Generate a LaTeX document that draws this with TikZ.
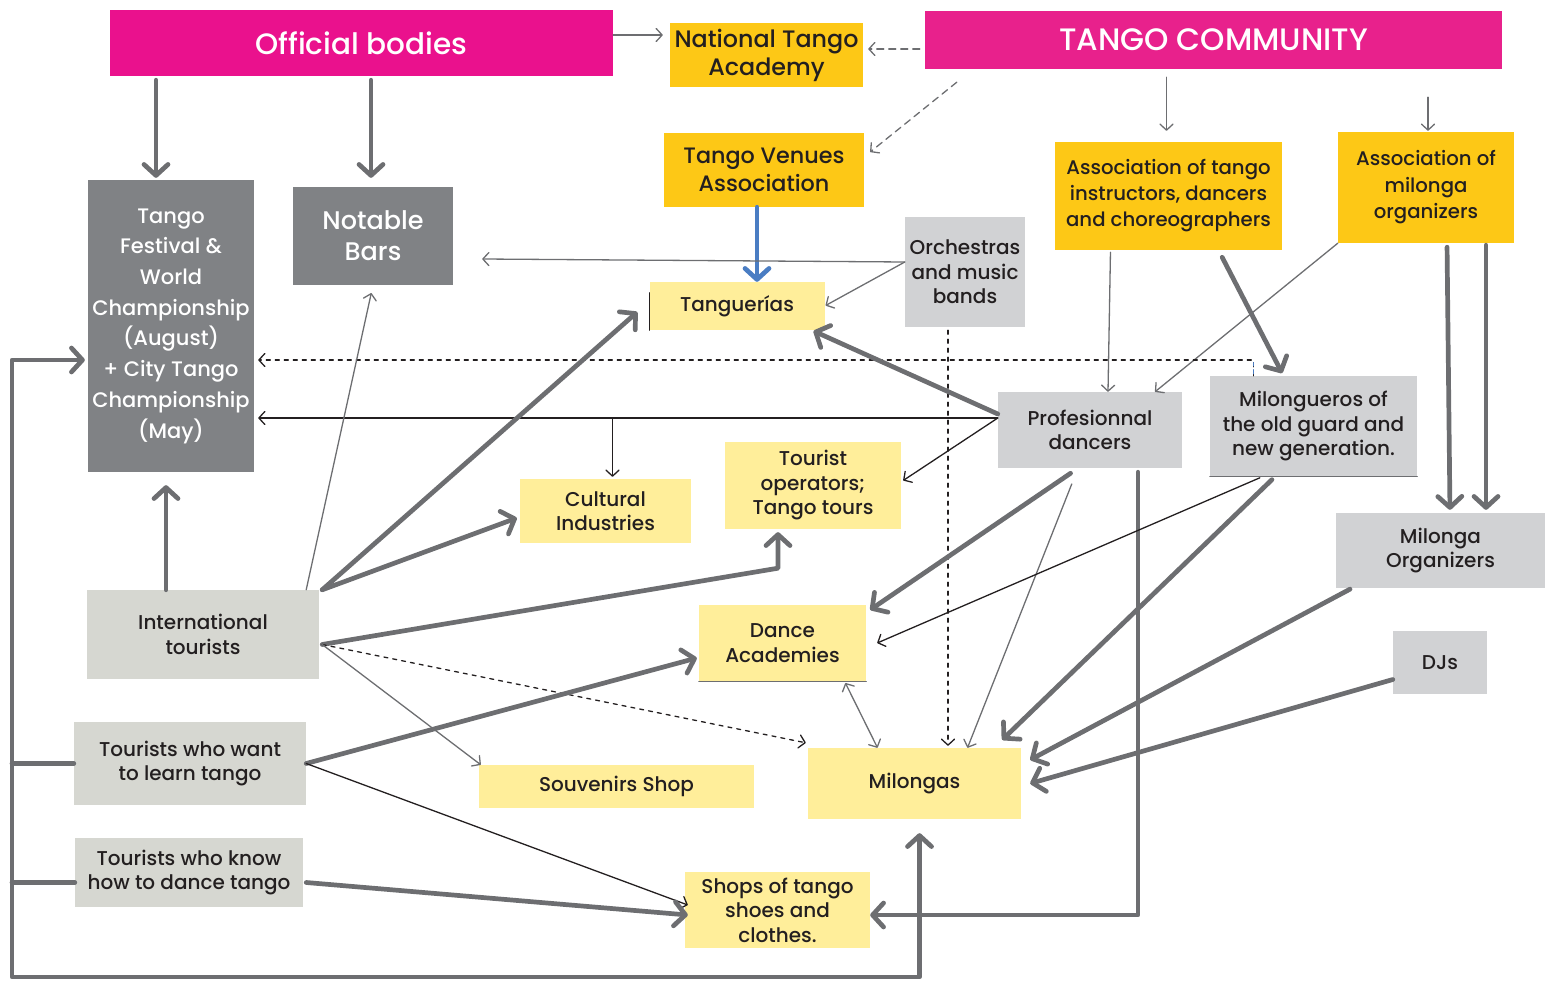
\documentclass[tikz,border=0pt]{standalone}
\usepackage{fontspec}
\IfFontExistsTF{Poppins Medium}{\setmainfont{Poppins Medium}}{\setmainfont{Poppins}}
\usepackage{tikz}
\usetikzlibrary{arrows.meta}
\definecolor{pinkA}{HTML}{EA118D}
\definecolor{pinkB}{HTML}{E8218C}
\definecolor{gold}{HTML}{FDC816}
\definecolor{slate}{HTML}{808285}
\definecolor{silver}{HTML}{D1D2D4}
\definecolor{stone}{HTML}{D6D7D1}
\definecolor{cream}{HTML}{FFEE9A}
\definecolor{lead}{HTML}{6D6E71}
\definecolor{steel}{HTML}{4A7DC3}
\definecolor{ink}{HTML}{231F20}

\begin{document}
\begin{tikzpicture}[line cap=round,line join=round,x=1pt,y=-1pt,
  bigtip/.tip={Straight Barb[length=11pt,width=24pt,round]},
  smalltip/.tip={Straight Barb[length=6pt,width=13pt,round]},
  box/.style={rectangle,inner sep=0pt,align=center,text=ink,font=\fontsize{20}{24.5}\selectfont},
  pinkbox/.style={box,text=white,font=\fontsize{29.5}{32}\selectfont},
  goldbox/.style={box,fill=gold},
  slatebox/.style={box,fill=slate,text=white},
  silverbox/.style={box,fill=silver},
  stonebox/.style={box,fill=stone},
  creambox/.style={box,fill=cream},
  heavy/.style={draw=lead,line width=4.7pt,-{bigtip}},
  fine/.style={draw=lead,line width=1.3pt,-{smalltip}},
  inkline/.style={draw=ink,line width=1.3pt,-{smalltip}},
  gap/.style={dash pattern=on 7pt off 5pt},
  inkgap/.style={dash pattern=on 4pt off 5pt}]
\useasboundingbox (0,0) rectangle (1547,981);

\node[pinkbox,fill=pinkA,minimum width=503,minimum height=66] (offb) at (361.5,43) {Official bodies};
\node[goldbox,minimum width=193,minimum height=64,font=\fontsize{23.8}{28}\selectfont] (nta) at (766.5,55) {National Tango\\Academy};
\node[pinkbox,fill=pinkB,minimum width=577,minimum height=58,font=\fontsize{31}{32}\selectfont] (comm) at (1213.5,40) {TANGO COMMUNITY};
\node[goldbox,minimum width=200,minimum height=74,font=\fontsize{22.3}{28}\selectfont] (tva) at (764,170) {Tango Venues\\Association};
\node[goldbox,minimum width=227,minimum height=108,font=\fontsize{19.7}{26}\selectfont] (ati) at (1168.5,196) {Association of tango\\instructors, dancers\\and choreographers};
\node[goldbox,minimum width=176,minimum height=111,font=\fontsize{19.7}{26.5}\selectfont] (amo) at (1426,187.5) {Association of\\milonga\\organizers};
\node[slatebox,minimum width=166,minimum height=292,font=\fontsize{21}{30.7}\selectfont] (fest) at (171,326) {Tango\\Festival \&\\World\\Championship\\(August)\\+ City Tango\\Championship\\(May)};
\node[slatebox,minimum width=160,minimum height=98,font=\fontsize{25.5}{31}\selectfont] (bars) at (373,236) {Notable\\Bars};
\node[silverbox,minimum width=120,minimum height=110] (orch) at (965,272) {Orchestras\\and music\\bands};
\node[creambox,minimum width=175,minimum height=48] (tang) at (737,306) {Tanguerías};
\node[silverbox,minimum width=184,minimum height=76] (prof) at (1090,430) {Profesionnal\\dancers};
\node[silverbox,minimum width=207,minimum height=100] (milg) at (1313.5,426) {Milongueros of\\the old guard and\\new generation.};
\node[creambox,minimum width=171,minimum height=64] (cult) at (605.5,511) {Cultural\\Industries};
\node[creambox,minimum width=176,minimum height=87] (tour) at (813,485.5) {Tourist\\operators;\\Tango tours};
\node[silverbox,minimum width=209,minimum height=75] (morg) at (1440.5,550.5) {Milonga\\Organizers};
\node[stonebox,minimum width=232,minimum height=89] (intl) at (203,634.5) {International\\tourists};
\node[creambox,minimum width=167,minimum height=76] (dance) at (782.5,643) {Dance\\Academies};
\node[silverbox,minimum width=94,minimum height=63] (djs) at (1440,662.5) {DJs};
\node[stonebox,minimum width=232,minimum height=83] (learn) at (190,763.5) {Tourists who want\\to learn tango};
\node[creambox,minimum width=275,minimum height=43] (souv) at (616.5,786.5) {Souvenirs Shop};
\node[creambox,minimum width=213,minimum height=71] (milo) at (914.5,783.5) {Milongas};
\node[stonebox,minimum width=228,minimum height=69] (know) at (189,872.5) {Tourists who know\\how to dance tango};
\node[creambox,minimum width=185,minimum height=76] (shops) at (777.5,910) {Shops of tango\\shoes and\\clothes.};
\draw[ink,line width=1.2pt] ([yshift=-11pt]tang.north west) -- (tang.south west);
\draw[lead,line width=1.2pt] (dance.south west) -- (dance.south east);
\draw[lead,line width=1.2pt] (milg.south west) -- (milg.south east);

\draw[heavy,shorten <=4pt,shorten >=2pt] ([xshift=-15pt]fest.north |- offb.south) -- ([xshift=-15pt]fest.north);
\draw[heavy,shorten <=4pt,shorten >=9pt] ([xshift=-2pt]bars.north |- offb.south) -- ([xshift=-2pt]bars.north);
\draw[fine,shorten >=7pt] ([yshift=8pt]offb.east) -- ([yshift=8pt]offb.east -| nta.west);
\draw[fine,gap,shorten <=5pt,shorten >=5pt] ([yshift=-9pt]comm.west) -- ([yshift=-9pt]comm.west -| nta.east);
\draw[fine,gap] ([xshift=32pt,yshift=-13pt]comm.south west) -- ([xshift=6pt,yshift=18pt]tva.east);
\draw[fine,shorten <=8pt,shorten >=11pt] ([xshift=-2pt]ati.north |- comm.south) -- ([xshift=-2pt]ati.north);
\draw[fine,shorten <=28pt,shorten >=1pt] ([xshift=2pt]amo.north |- comm.south) -- ([xshift=2pt]amo.north);
\draw[draw=steel,line width=4.7pt,-{bigtip}] ([xshift=-7pt]tva.south) -- ([xshift=-7pt]tva.south |- tang.north);
\draw[fine] ([yshift=10pt]orch.west) -- ([xshift=29pt,yshift=-23pt]bars.east);
\draw[fine,shorten >=1pt] ([yshift=10pt]orch.west) -- (tang.east);
\draw[inkline,inkgap,shorten <=3pt,shorten >=2pt] ([xshift=-17pt]orch.south) -- ([xshift=-17pt]orch.south |- milo.north);
\draw[fine,shorten <=2pt] ([xshift=-58pt]ati.south) -- ([xshift=18pt]prof.north);
\draw[heavy,shorten <=8pt,shorten >=3pt] ([xshift=50pt]ati.south) -- ([xshift=-30pt]milg.north);
\draw[fine] (amo.south west) -- ([xshift=65pt]prof.north);
\draw[heavy,shorten <=4pt,shorten >=3pt] ([xshift=21pt]amo.south) -- ([xshift=9.5pt]morg.north);
\draw[heavy,shorten <=2pt,shorten >=3pt] ([xshift=60pt]amo.south) -- ([xshift=45.5pt]morg.north);

\draw[inkline,inkgap,shorten >=4pt] ([xshift=-60pt]milg.north) |- ([yshift=-34pt]fest.east);
\draw[steel,line width=1.3pt,dash pattern=on 4pt off 4pt] ([xshift=-60pt,yshift=2pt]milg.north) -- ([xshift=-60pt,yshift=13pt]milg.north);
\draw[inkline,shorten >=4pt] ([yshift=12pt]prof.west) -- ([yshift=12pt]prof.west -| fest.east);
\draw[inkline,shorten >=2pt] ([xshift=7pt,yshift=12pt]cult.north |- prof.west) -- ([xshift=7pt]cult.north);
\draw[heavy,shorten >=2pt] ([yshift=16pt]prof.west) -- ([xshift=-13pt]tang.south east);
\draw[inkline] ([yshift=12pt]prof.west) -- ([xshift=2pt,yshift=5pt]tour.east);
\draw[heavy,shorten <=9pt] ([xshift=-12pt]prof.south) -- ([xshift=4pt,yshift=-5pt]dance.north east);
\draw[fine,shorten <=17pt] ([xshift=-12pt]prof.south) -- ([xshift=53pt]milo.north);
\draw[heavy,shorten <=4pt] ([xshift=48pt]prof.south) |- ([yshift=-5pt]shops.east);
\draw[inkline,shorten <=4pt] ([xshift=-50pt]milg.south) -- ([xshift=11pt]dance.east);
\draw[heavy,shorten <=5pt] ([xshift=-38pt]milg.south) -- ([xshift=-19pt,yshift=8pt]milo.north east);
\draw[heavy,shorten <=2pt] ([xshift=16pt]morg.south west) -- ([xshift=9pt,yshift=-12pt]milo.north east);
\draw[heavy] ([yshift=-17pt]djs.west) -- ([xshift=9pt]milo.east);
\draw[fine,{smalltip}-{smalltip},shorten <=2pt] ([xshift=62pt]dance.south) -- ([xshift=-37pt]milo.north);

\draw[heavy,shorten >=13pt] ([xshift=-37pt]intl.north) -- ([xshift=-37pt]intl.north |- fest.south);
\draw[fine,shorten >=8pt] ([xshift=-13pt]intl.north east) -- (bars.south);
\draw[heavy] ([xshift=3pt]intl.north east) -- ([xshift=-12pt,yshift=-6pt]tang.west);
\draw[heavy] ([xshift=3pt]intl.north east) -- ([xshift=-3pt,yshift=-7pt]cult.west);
\draw[heavy] ([xshift=3pt,yshift=-10pt]intl.east) -- ([xshift=-35pt,yshift=-39pt]tour.south) -- ([xshift=-35pt,yshift=-3pt]tour.south);
\draw[inkline,inkgap] ([xshift=3pt,yshift=-10pt]intl.east) -- ([xshift=-2pt,yshift=5pt]milo.north west);
\draw[fine] ([xshift=3pt,yshift=-10pt]intl.east) -- ([xshift=2pt]souv.north west);
\draw[heavy] (learn.east) -- ([xshift=-2pt,yshift=-15pt]dance.west);
\draw[inkline] (learn.east) -- ([xshift=3pt,yshift=5pt]shops.west);
\draw[heavy] ([xshift=3pt,yshift=-10pt]know.east) -- ([xshift=3pt,yshift=-5pt]shops.west);

\coordinate (corner) at (12,977);
\draw[heavy,{bigtip}-{bigtip},shorten <=3pt,shorten >=14pt] ([yshift=-34pt]fest.west) -| (corner) -| ([xshift=5pt]milo.south);
\draw[heavy,-] (learn.west) -- (learn.west -| corner);
\draw[heavy,-] ([yshift=-10pt]know.west) -- ([yshift=-10pt]know.west -| corner);
\end{tikzpicture}
\end{document}
